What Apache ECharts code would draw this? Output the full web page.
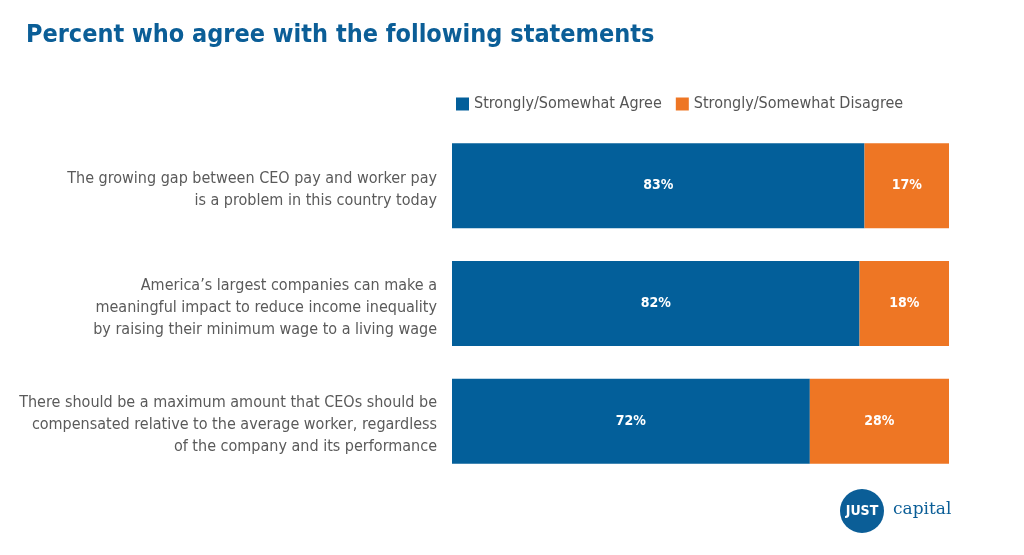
<!DOCTYPE html>
<html><head><meta charset="utf-8">
<script src="https://cdn.jsdelivr.net/npm/echarts@6/dist/echarts.min.js"></script>
<style>html,body{margin:0;padding:0;background:#fff}#c{width:1024px;height:555px}</style>
</head><body><div id="c"></div>
<script>
const categories = [
  "The growing gap between CEO pay and worker pay\nis a problem in this country today",
  "America\u2019s largest companies can make a\nmeaningful impact to reduce income inequality\nby raising their minimum wage to a living wage",
  "There should be a maximum amount that CEOs should be\ncompensated relative to the average worker, regardless\nof the company and its performance"
];
const agree = [83, 82, 72];
const disagree = [17, 18, 28];
const seriesNames = ["Strongly/Somewhat Agree", "Strongly/Somewhat Disagree"];
const FONT = "'DejaVu Sans Condensed', 'Liberation Sans Narrow', sans-serif";
const chart = echarts.init(document.getElementById('c'));
chart.setOption({
  animation: false,
  title: {
    text: "Percent who agree with the following statements",
    left: 21, top: 18,
    textStyle: {color: '#0B5E97', fontSize: 25, fontWeight: 'bold', fontFamily: FONT}
  },
  legend: {
    left: 451, top: 91, itemWidth: 13, itemHeight: 13, itemGap: 14,
    icon: 'rect',
    textStyle: {color: '#555', fontSize: 16, fontFamily: FONT},
    data: seriesNames
  },
  grid: [
    {left: 452, right: 75, top: 127, bottom: 75},
    {left: 452, right: 75, top: 131, bottom: 71}
  ],
  xAxis: [
    {type: 'value', min: 0, max: 100, show: false, gridIndex: 0},
    {type: 'value', min: 0, max: 100, show: false, gridIndex: 1}
  ],
  yAxis: [
    {type: 'category', data: categories, inverse: true, gridIndex: 0,
     axisLine: {show: false}, axisTick: {show: false}, axisLabel: {show: false}},
    {type: 'category', data: categories, inverse: true, gridIndex: 1,
     axisLine: {show: false}, axisTick: {show: false},
     axisLabel: {color: '#5a5a5a', fontSize: 16, lineHeight: 22, fontFamily: FONT, margin: 15, align: 'right'}}
  ],
  series: [
    {name: seriesNames[0], type: 'bar', stack: 's', data: agree, barWidth: 85,
     itemStyle: {color: '#035F9A'},
     label: {show: true, position: 'inside', color: '#fff', fontSize: 14, fontWeight: 'bold', fontFamily: FONT, formatter: '{c}%'}},
    {name: seriesNames[1], type: 'bar', stack: 's', data: disagree, barWidth: 85,
     itemStyle: {color: '#EE7624'},
     label: {show: true, position: 'inside', color: '#fff', fontSize: 14, fontWeight: 'bold', fontFamily: FONT, formatter: '{c}%'}}
  ],
  graphic: [
    {type: 'circle', shape: {cx: 862, cy: 511, r: 22}, style: {fill: '#0B5E97'}},
    {type: 'text', x: 862, y: 511, style: {text: 'JUST', fill: '#fff', font: "bold 14px 'DejaVu Sans Condensed', sans-serif", align: 'center', verticalAlign: 'middle'}},
    {type: 'text', x: 893, y: 510, style: {text: 'capital', fill: '#0B5E97', font: "17px 'DejaVu Serif', serif", align: 'left', verticalAlign: 'middle'}}
  ]
});
</script></body></html>
